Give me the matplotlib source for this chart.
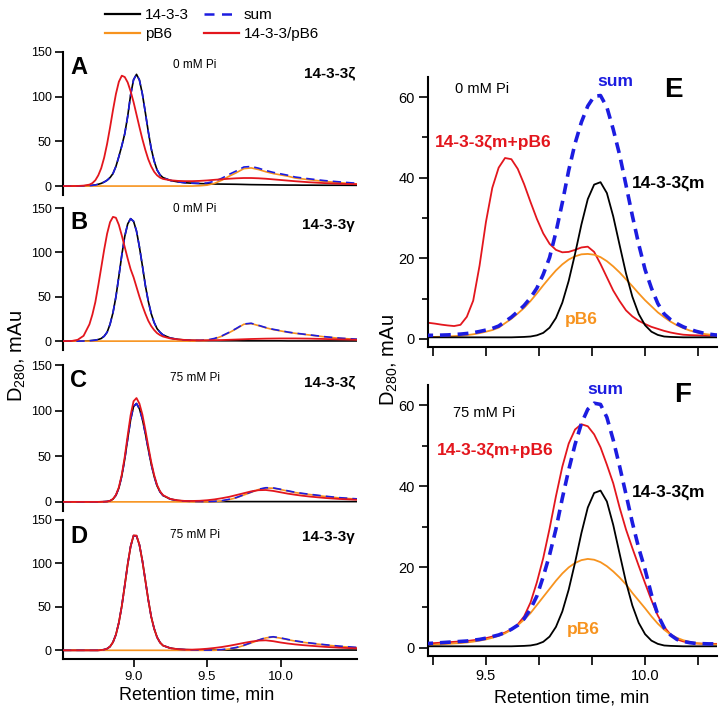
import matplotlib
matplotlib.use('Agg')
import matplotlib.pyplot as plt
from matplotlib.lines import Line2D

plt.rcParams['font.family'] = ['Liberation Sans', 'DejaVu Sans']
plt.rcParams['mathtext.fontset'] = 'custom'
plt.rcParams['mathtext.rm'] = 'Liberation Sans'
plt.rcParams['mathtext.it'] = 'Liberation Sans:italic'
plt.rcParams['mathtext.bf'] = 'Liberation Sans:bold'
plt.rcParams['mathtext.default'] = 'rm'

# ---------------- data: left panels (A-D) ----------------
X_LEFT = [8.52, 8.58, 8.62, 8.66, 8.70, 8.72, 8.74, 8.76, 8.78, 8.80, 8.82, 8.84, 8.86, 8.88,
          8.90, 8.92, 8.94, 8.96, 8.98, 9.00, 9.02, 9.04, 9.06, 9.08, 9.10, 9.12, 9.14, 9.16,
          9.18, 9.20, 9.25, 9.30, 9.35, 9.40, 9.45, 9.50, 9.55, 9.60, 9.65, 9.70, 9.75, 9.80,
          9.85, 9.90, 9.95, 10.00, 10.05, 10.10, 10.15, 10.20, 10.30, 10.40, 10.52]

A_BLACK = [0, 0, 0, 0.2, 0.5, 0.8, 1.2, 2, 3, 4.5, 6.5, 9.5, 14, 22,
           33, 45, 58.5, 78, 102, 119, 125, 118.6, 103, 82.4, 61, 42, 28, 18,
           12.5, 9.5, 6.3, 4.7, 3.7, 3.2, 2.8, 2.5, 2.3, 2.2, 2.1, 2.0, 1.8, 1.6,
           1.5, 1.4, 1.3, 1.2, 1.1, 1.1, 1.0, 1.0, 0.9, 0.9, 0.8]
A_ORANGE = [0, 0, 0, 0, 0, 0, 0, 0, 0, 0, 0, 0, 0, 0,
            0, 0, 0, 0, 0, 0, 0, 0, 0, 0, 0, 0, 0, 0,
            0, 0, 0, 0, 0, 0, 0.3, 1.0, 3.0, 6.5, 11, 15, 19.5, 20.3,
            18.5, 16, 14, 12.5, 11, 9.0, 8.0, 7.0, 5.2, 3.8, 2.3]
A_SUM = [0, 0, 0, 0.2, 0.5, 0.8, 1.2, 2, 3, 4.5, 6.5, 9.5, 14, 22,
         33, 45, 58.5, 78, 102, 119, 125, 118.6, 103, 82.4, 61, 42, 28, 18,
         12.5, 9.5, 6.3, 4.7, 3.7, 3.2, 3.1, 3.5, 5.3, 8.7, 13.1, 17, 21.3, 21.9,
         20, 17.4, 15.3, 13.7, 12.1, 10.1, 9.0, 8.0, 6.1, 4.7, 3.1]
A_RED = [0, 0, 0.1, 0.5, 1.6, 3.3, 6.5, 12, 20, 31.8, 47.2, 65.5, 85, 103,
         116.7, 123.5, 122, 116, 106, 94, 80, 66, 52.5, 40.5, 30, 22, 16, 12,
         9.5, 8, 6.5, 5.8, 5.5, 5.5, 5.8, 6.3, 7, 7.6, 8.2, 8.7, 9, 9,
         8.7, 8.2, 7.5, 6.8, 6.1, 5.4, 4.8, 4.2, 3.3, 2.6, 2.0]

B_BLACK = [0, 0, 0, 0.1, 0.4, 0.7, 1.1, 1.8, 3, 5.5, 10, 19, 32, 50,
           73, 97, 118, 132, 138, 135, 124, 106, 85, 63, 45, 31, 21, 14,
           10, 7, 3.5, 2, 1.2, 0.8, 0.6, 0.5, 0.5, 0.4, 0.4, 0.4, 0.3, 0.3,
           0.3, 0.3, 0.3, 0.3, 0.2, 0.2, 0.2, 0.2, 0.2, 0.2, 0.2]
B_ORANGE = [0, 0, 0, 0, 0, 0, 0, 0, 0, 0, 0, 0, 0, 0,
            0, 0, 0, 0, 0, 0, 0, 0, 0, 0, 0, 0, 0, 0,
            0, 0, 0, 0, 0, 0, 0.2, 0.8, 2.5, 5.5, 9.5, 14, 19, 19.8,
            17.5, 15, 13, 11.5, 10, 8.8, 7.8, 6.8, 4.8, 3.2, 2.0]
B_SUM = [0, 0, 0, 0.1, 0.4, 0.7, 1.1, 1.8, 3, 5.5, 10, 19, 32, 50,
         73, 97, 118, 132, 138, 135, 124, 106, 85, 63, 45, 31, 21, 14,
         10, 7, 3.5, 2, 1.2, 0.8, 0.8, 1.3, 3.0, 5.9, 9.9, 14.4, 19.3, 20.1,
         17.8, 15.3, 13.3, 11.8, 10.2, 9.0, 8.0, 7.0, 5.0, 3.4, 2.2]
B_RED = [0, 0.2, 1.5, 6, 19, 30, 44, 62.8, 82.8, 103, 121, 134, 140, 139,
         131, 119, 106, 93, 81, 72, 61, 50, 40, 31, 23, 17, 12.5, 9,
         6.8, 5.2, 3, 2, 1.3, 1, 0.9, 0.9, 1.0, 1.2, 1.5, 1.8, 2.1, 2.4,
         2.6, 2.8, 2.9, 3.0, 3.0, 3.0, 2.9, 2.8, 2.4, 2.0, 1.5]

C_BLACK = [0, 0, 0, 0, 0, 0, 0, 0, 0.1, 0.2, 0.4, 1.1, 3.0, 7.2,
           15.1, 28.4, 46.8, 68.9, 90, 104.5, 107.8, 102, 90.7, 75, 57.8, 41.5, 28, 17.5,
           11, 7, 3, 1.5, 0.8, 0.5, 0.4, 0.3, 0.3, 0.3, 0.3, 0.3, 0.3, 0.3,
           0.3, 0.3, 0.3, 0.3, 0.3, 0.3, 0.3, 0.3, 0.3, 0.3, 0.3]
C_ORANGE = [0, 0, 0, 0, 0, 0, 0, 0, 0, 0, 0, 0, 0, 0,
            0, 0, 0, 0, 0, 0, 0, 0, 0, 0, 0, 0, 0, 0,
            0, 0, 0, 0, 0, 0, 0, 0, 0.3, 1, 2.5, 4.5, 7.5, 10.5,
            13.5, 15.2, 15, 13.5, 11.8, 10.2, 9, 8, 6, 4.3, 3]
C_SUM = [0, 0, 0, 0, 0, 0, 0, 0, 0.1, 0.2, 0.4, 1.1, 3.0, 7.2,
         15.1, 28.4, 46.8, 68.9, 90, 104.5, 107.8, 102, 90.7, 75, 57.8, 41.5, 28, 17.5,
         11, 7, 3, 1.5, 0.8, 0.5, 0.4, 0.3, 0.6, 1.3, 2.8, 4.8, 7.8, 10.8,
         13.8, 15.5, 15.3, 13.8, 12.1, 10.5, 9.3, 8.3, 6.3, 4.6, 3.3]
C_RED = [0, 0, 0, 0, 0, 0, 0, 0, 0.1, 0.2, 0.4, 1.2, 3.2, 7.6,
         16, 30, 49.4, 72.7, 95, 110.3, 113.8, 107.6, 95.7, 79.1, 61, 43.8, 29.5, 18.5,
         11.6, 7.4, 3.2, 1.7, 1.0, 1.0, 1.2, 1.8, 2.7, 4, 5.5, 7.5, 9.5, 11.5,
         12.8, 13, 12, 10.5, 9, 7.8, 6.7, 5.8, 4.3, 3.2, 2.3]

D_BLACK = [0, 0, 0, 0, 0, 0, 0, 0, 0.3, 0.8, 1.9, 4.3, 9.3, 18,
           31.9, 51, 74.6, 98.9, 119.6, 131.9, 131.7, 121.3, 103, 80.7, 58.2, 38.7, 25, 15,
           9, 5.5, 2.5, 1.3, 0.8, 0.5, 0.4, 0.3, 0.3, 0.3, 0.3, 0.3, 0.3, 0.3,
           0.3, 0.3, 0.3, 0.3, 0.3, 0.3, 0.3, 0.3, 0.3, 0.3, 0.3]
D_ORANGE = [0, 0, 0, 0, 0, 0, 0, 0, 0, 0, 0, 0, 0, 0,
            0, 0, 0, 0, 0, 0, 0, 0, 0, 0, 0, 0, 0, 0,
            0, 0, 0, 0, 0, 0, 0, 0, 0, 0.5, 1.5, 3, 5.5, 8.5,
            11.5, 14.3, 15.3, 14, 12.2, 10.6, 9.3, 8.2, 6.2, 4.5, 3]
D_SUM = [0, 0, 0, 0, 0, 0, 0, 0, 0.3, 0.8, 1.9, 4.3, 9.3, 18,
         31.9, 51, 74.6, 98.9, 119.6, 131.9, 131.7, 121.3, 103, 80.7, 58.2, 38.7, 25, 15,
         9, 5.5, 2.5, 1.3, 0.8, 0.5, 0.4, 0.3, 0.3, 0.8, 1.8, 3.3, 5.8, 8.8,
         11.8, 14.6, 15.6, 14.3, 12.5, 10.9, 9.6, 8.5, 6.5, 4.8, 3.3]
D_RED = [0, 0, 0, 0, 0, 0, 0, 0, 0.3, 0.8, 1.9, 4.3, 9.3, 18,
         31.9, 51, 74.6, 98.9, 119.6, 132.3, 132.1, 121.3, 103, 80.7, 58.2, 38.7, 25, 15,
         9, 5.5, 2.5, 1.3, 0.8, 0.8, 1.2, 1.8, 2.7, 3.8, 5.2, 6.8, 8.5, 10,
         11.2, 11.5, 10.5, 9, 7.8, 6.8, 6, 5.3, 4, 3, 2.2]

# ---------------- data: right panels (E, F) ----------------
X_RIGHT = [9.30, 9.32, 9.34, 9.36, 9.38, 9.40, 9.42, 9.44, 9.46, 9.48, 9.50, 9.52,
           9.54, 9.56, 9.58, 9.60, 9.62, 9.64, 9.66, 9.68, 9.70, 9.72, 9.74, 9.76,
           9.78, 9.80, 9.82, 9.84, 9.86, 9.88, 9.90, 9.92, 9.94, 9.96, 9.98, 10.00,
           10.02, 10.04, 10.06, 10.08, 10.10, 10.12, 10.14, 10.16, 10.18, 10.20, 10.22, 10.24]

ZM_BLACK = [0.4, 0.4, 0.4, 0.4, 0.4, 0.4, 0.4, 0.4, 0.4, 0.4, 0.4, 0.4,
            0.4, 0.4, 0.4, 0.45, 0.5, 0.6, 0.9, 1.5, 2.8, 5.2, 9.0, 14.4,
            21.1, 28.4, 34.7, 38.3, 38.9, 36.2, 30.4, 23.3, 16.3, 10.5, 6.2, 3.4,
            1.8, 1.0, 0.6, 0.5, 0.45, 0.4, 0.4, 0.4, 0.4, 0.4, 0.4, 0.4]

E_ORANGE = [0.5, 0.5, 0.5, 0.55, 0.6, 0.7, 0.8, 0.95, 1.15, 1.45, 1.8, 2.2,
            2.8, 3.9, 5.0, 6.3, 7.7, 9.4, 11.3, 13.3, 15.2, 17.0, 18.5, 19.7,
            20.5, 21.0, 21.1, 20.9, 20.3, 19.3, 18.0, 16.5, 14.8, 13.1, 11.3, 9.6,
            8.1, 6.6, 5.4, 4.3, 3.4, 2.7, 2.1, 1.7, 1.3, 1.1, 0.9, 0.8]
E_SUM = [0.9, 0.9, 0.9, 0.95, 1.0, 1.1, 1.2, 1.35, 1.55, 1.85, 2.2, 2.6,
         3.2, 4.3, 5.4, 6.8, 8.3, 10.2, 12.6, 16.0, 20.2, 26.5, 33.8, 41.8,
         48.5, 53.8, 57.8, 60.2, 60.4, 57.5, 52.0, 45.7, 38.2, 30.6, 23.5, 17.2,
         12.6, 8.8, 6.2, 4.8, 3.8, 3.0, 2.4, 1.9, 1.5, 1.2, 1.0, 0.9]
E_RED = [4.2, 4.0, 3.8, 3.55, 3.35, 3.2, 3.5, 5.5, 9.5, 18.2, 29, 37.5,
         42.5, 44.9, 44.6, 42.2, 38.4, 34, 29.8, 26.2, 23.6, 22.1, 21.5, 21.6,
         22.1, 22.7, 22.9, 21.6, 18.6, 15.3, 12.0, 9.4, 7.1, 5.6, 4.5, 3.7,
         3.0, 2.5, 2.0, 1.6, 1.3, 1.05, 0.95, 0.9, 0.85, 0.8, 0.8, 0.8]

F_ORANGE = [0.7, 0.75, 0.8, 0.9, 1.0, 1.1, 1.2, 1.35, 1.55, 1.8, 2.1, 2.5,
            3.0, 3.6, 4.5, 5.6, 7.0, 8.6, 10.6, 12.6, 14.6, 16.6, 18.4, 19.9,
            21.0, 21.7, 22.0, 21.8, 21.2, 20.2, 18.9, 17.4, 15.7, 13.6, 11.7, 9.8,
            7.8, 6.0, 4.5, 3.3, 2.5, 1.9, 1.5, 1.2, 1.0, 0.9, 0.85, 0.8]
F_SUM = [1.1, 1.1, 1.2, 1.3, 1.4, 1.5, 1.6, 1.7, 1.9, 2.1, 2.4, 2.8,
         3.2, 3.8, 4.6, 5.6, 7.2, 9.6, 12.8, 17.6, 23, 29.4, 37, 44,
         50.3, 55.5, 59, 60.5, 60.2, 57, 51.4, 44.9, 38, 31, 24.7, 19.4,
         13.2, 8.2, 5.0, 3.2, 2.1, 1.6, 1.3, 1.1, 1.05, 1.0, 1.0, 1.0]
F_RED = [1.1, 1.1, 1.2, 1.3, 1.4, 1.5, 1.6, 1.7, 1.9, 2.1, 2.4, 2.8,
         3.2, 3.8, 4.6, 5.8, 7.8, 11.2, 16.2, 22.2, 29.5, 37.5, 44.8, 50.5,
         54.0, 55.3, 54.8, 52.8, 49.6, 45.3, 40.7, 34.7, 29.3, 24.7, 20.3, 16,
         11.8, 8, 5.2, 3.3, 2.1, 1.6, 1.3, 1.1, 1.05, 1.0, 1.0, 1.0]

LEFT_TICKS = [0, 50, 100, 150]
LEFT_XTICKS = [9.0, 9.5, 10.0]
LEFT_XTICKLABELS = ['9.0', '9.5', '10.0']
RIGHT_YTICKS = [0, 20, 40, 60]
RIGHT_YMINOR = [10, 30, 50]
RIGHT_XTICKS = [9.5, 10.0]
RIGHT_XTICKLABELS = ['9.5', '10.0']
RIGHT_XMINOR = [9.3333, 9.6667, 9.8333, 10.1667]

# ---------------- styling ----------------
BLACK = '#000000'
ORANGE = '#F7931E'
BLUE = '#1C1CE0'
RED = '#E3161D'

W, H = 725, 715
fig = plt.figure(figsize=(7.25, 7.15), dpi=100)


def px_axes(x0, y0, x1, y1):
    return fig.add_axes([x0 / W, 1 - y1 / H, (x1 - x0) / W, (y1 - y0) / H])


left_panels = [
    ('A', '0 mM Pi', '14-3-3ζ', A_BLACK, A_ORANGE, A_SUM, A_RED, 52, 195, 0.895, 0.909, 0.853),
    ('B', '0 mM Pi', '14-3-3γ', B_BLACK, B_ORANGE, B_SUM, B_RED, 208, 350, 0.90, 0.99, 0.88),
    ('C', '75 mM Pi', '14-3-3ζ', C_BLACK, C_ORANGE, C_SUM, C_RED, 365, 511, 0.897, 0.91, 0.884),
    ('D', '75 mM Pi', '14-3-3γ', D_BLACK, D_ORANGE, D_SUM, D_RED, 520, 659, 0.878, 0.892, 0.878),
]

for i, (letter, cond, prot, yk, yo, ys, yr, top, bot, ly, cy, py_) in enumerate(left_panels):
    ax = px_axes(63, top, 357, bot)
    ax.plot(X_LEFT, yk, color=BLACK, lw=1.2, zorder=2)
    ax.plot(X_LEFT, yo, color=ORANGE, lw=1.2, zorder=2)
    ax.plot(X_LEFT, ys, color=BLUE, lw=1.2, dashes=(5, 3), zorder=3)
    ax.plot(X_LEFT, yr, color=RED, lw=1.3, zorder=4)
    ax.set_xlim(8.52, 10.52)
    ax.set_ylim(-10, 150)
    for s in ('top', 'right'):
        ax.spines[s].set_visible(False)
    ax.spines['left'].set_linewidth(1.5)
    ax.spines['bottom'].set_linewidth(1.5)
    ax.set_yticks(LEFT_TICKS)
    ax.tick_params(axis='y', direction='out', length=6, width=1.2, labelsize=9, pad=2)
    if letter != 'D':
        ax.spines['bottom'].set_visible(False)
        ax.set_xticks([])
    else:
        ax.set_xticks(LEFT_XTICKS)
        ax.set_xticklabels(LEFT_XTICKLABELS)
        ax.tick_params(axis='x', direction='out', length=6, width=1.2, labelsize=9.5, pad=3)
    ax.patch.set_alpha(0)
    ax.text(0.024, ly, letter, transform=ax.transAxes, ha='left', va='center',
            fontsize=17, fontweight='bold')
    ax.text(0.449, cy, cond, transform=ax.transAxes, ha='center', va='center', fontsize=8.5)
    ax.text(0.993, py_, prot, transform=ax.transAxes, ha='right', va='center',
            fontsize=11, fontweight='bold')

right_panels = [
    ('E', '0 mM Pi', E_ORANGE, E_SUM, E_RED, 77, 347, False,
     (0.093, 0.956), (0.647, 0.985), (0.848, 0.952), (0.024, 0.759), (0.706, 0.607), (0.474, 0.10)),
    ('F', '75 mM Pi', F_ORANGE, F_SUM, F_RED, 385, 656, True,
     (0.0865, 0.897), (0.612, 0.985), (0.882, 0.963), (0.031, 0.76), (0.706, 0.605), (0.481, 0.096)),
]

for (letter, cond, yo, ys, yr, top, bot, showx, pc, psum, plet, pred, pblk, porg) in right_panels:
    ax = px_axes(428, top, 717, bot)
    ax.plot(X_RIGHT, yr, color=RED, lw=1.3, zorder=2)
    ax.plot(X_RIGHT, yo, color=ORANGE, lw=1.3, zorder=2)
    ax.plot(X_RIGHT, ZM_BLACK, color=BLACK, lw=1.3, zorder=3)
    ax.plot(X_RIGHT, ys, color=BLUE, lw=2.6, dashes=(3, 1.9), zorder=4)
    ax.set_xlim(9.318, 10.226)
    ax.set_ylim(-2, 65)
    for s in ('top', 'right'):
        ax.spines[s].set_visible(False)
    ax.spines['left'].set_linewidth(1.5)
    ax.spines['bottom'].set_linewidth(1.5)
    ax.set_yticks(RIGHT_YTICKS)
    ax.set_yticks(RIGHT_YMINOR, minor=True)
    ax.set_xticks(RIGHT_XTICKS)
    ax.set_xticks(RIGHT_XMINOR, minor=True)
    if showx:
        ax.set_xticklabels(RIGHT_XTICKLABELS)
    else:
        ax.set_xticklabels([])
    ax.tick_params(axis='both', which='major', direction='out', length=6.5, width=1.2,
                   labelsize=10.5, pad=3)
    ax.tick_params(axis='x', which='minor', direction='out', length=6.5, width=1.2)
    ax.tick_params(axis='y', which='minor', direction='out', length=4, width=1.2)
    ax.patch.set_alpha(0)
    ax.text(pc[0], pc[1], cond, transform=ax.transAxes, ha='left', va='center', fontsize=10.5)
    ax.text(psum[0], psum[1], 'sum', transform=ax.transAxes, ha='center', va='center',
            fontsize=12.5, fontweight='bold', color=BLUE)
    ax.text(plet[0], plet[1], letter, transform=ax.transAxes, ha='center', va='center',
            fontsize=20, fontweight='bold')
    ax.text(pred[0], pred[1], '14-3-3ζm+pB6', transform=ax.transAxes, ha='left', va='center',
            fontsize=12.5, fontweight='bold', color=RED)
    ax.text(pblk[0], pblk[1], '14-3-3ζm', transform=ax.transAxes, ha='left', va='center',
            fontsize=12.5, fontweight='bold', color=BLACK)
    ax.text(porg[0], porg[1], 'pB6', transform=ax.transAxes, ha='left', va='center',
            fontsize=12.5, fontweight='bold', color=ORANGE)

# axis labels
fig.text(17 / W, 1 - 356 / H, 'D$_{280}$, mAu', rotation=90, ha='center', va='center', fontsize=14.5)
fig.text(389 / W, 1 - 360 / H, 'D$_{280}$, mAu', rotation=90, ha='center', va='center', fontsize=14.5)
fig.text(197 / W, 1 - 695 / H, 'Retention time, min', ha='center', va='center', fontsize=13)
fig.text(572 / W, 1 - 698 / H, 'Retention time, min', ha='center', va='center', fontsize=13)

# legend
handles = [Line2D([], [], color=BLACK, lw=1.6),
           Line2D([], [], color=ORANGE, lw=1.6),
           Line2D([], [], color=BLUE, lw=1.8, dashes=(4, 3)),
           Line2D([], [], color=RED, lw=1.6)]
labels = ['14-3-3', 'pB6', 'sum', '14-3-3/pB6']
fig.legend(handles, labels, ncol=2, loc='upper left', bbox_to_anchor=(105 / W, 1 - 8 / H),
           frameon=False, fontsize=11, handlelength=2.3, handletextpad=0.3,
           columnspacing=1.0, labelspacing=0.32, borderpad=0, borderaxespad=0)

fig.savefig('out.png', dpi=100)
